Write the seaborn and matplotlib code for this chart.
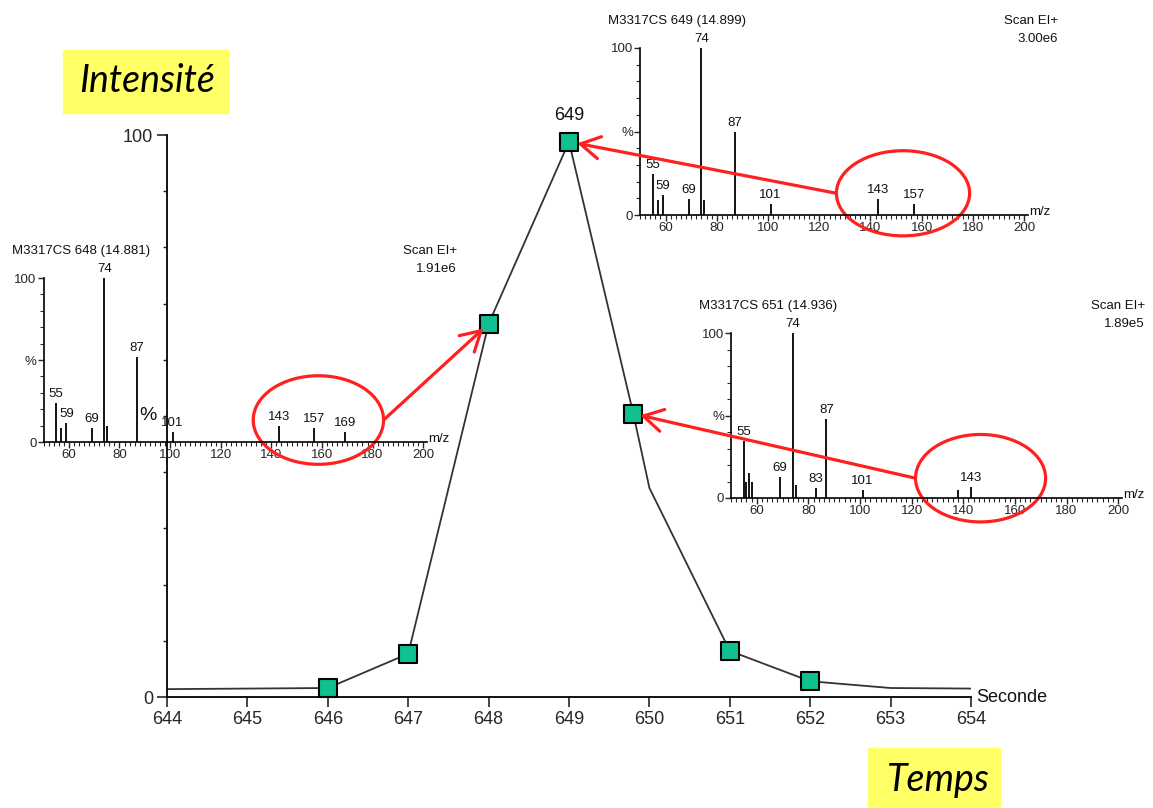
import matplotlib
matplotlib.use("Agg")
import matplotlib.pyplot as plt
import seaborn as sns
import pandas as pd
from matplotlib.patches import Ellipse, Rectangle, ConnectionPatch
from matplotlib.ticker import MultipleLocator

# chromatogram (total ion current around scan 649)
scan_time = [644, 646, 647, 648, 649, 649.8, 650, 651, 652, 653, 654]
scan_intensity = [1.4, 1.6, 7.7, 66.4, 98.8, 50.4, 37.2, 8.2, 2.8, 1.6, 1.5]
scan_marked = [False, True, True, True, True, True, False, True, True, False, False]
time_ticks = list(range(644, 655))

# mass spectra (relative abundance, %)
mz_648 = [55, 57, 59, 69, 74, 75, 87, 101, 143, 157, 169]
rel_648 = [24, 8.5, 11.5, 8.5, 100, 10, 52, 6, 10, 8.5, 6]
lab_648 = [55, 59, 69, 74, 87, 101, 143, 157, 169]

mz_649 = [55, 57, 59, 69, 74, 75, 87, 101, 143, 157]
rel_649 = [24.5, 9, 12, 9.5, 100, 9, 50, 6.5, 9.5, 6.5]
lab_649 = [55, 59, 69, 74, 87, 101, 143, 157]

mz_651 = [55, 56, 57, 58, 69, 74, 75, 83, 87, 101, 138, 143]
rel_651 = [34.5, 10, 15, 10, 13, 100, 8, 6, 48, 5, 5, 6.5]
lab_651 = [55, 69, 74, 83, 87, 101, 143]

RED = "#ff2020"
W, H = 1153, 808

sns.set_style("ticks")
plt.rcParams["font.family"] = ["Liberation Sans", "DejaVu Sans"]
plt.rcParams["text.color"] = "#111111"


def rect(x0, y0, x1, y1):
    # pixel box (top-left origin) -> figure fraction
    return [x0 / W, 1 - y1 / H, (x1 - x0) / W, (y1 - y0) / H]


fig = plt.figure(figsize=(W / 100, H / 100), dpi=100)

# ---- main chromatogram
ax = fig.add_axes(rect(167, 135, 971, 697))
ax.set_facecolor("none")
df = pd.DataFrame({"t": scan_time, "i": scan_intensity, "m": scan_marked})
sns.lineplot(data=df, x="t", y="i", ax=ax, color="#333333", lw=1.3, zorder=2)
sns.scatterplot(data=df[df.m], x="t", y="i", ax=ax, marker="s", s=150,
                color="#10c090", edgecolor="black", linewidth=1.5,
                zorder=3, clip_on=False)
ax.set_xlim(644, 654)
ax.set_ylim(0, 100)
sns.despine(ax=ax)
for sp in ax.spines.values():
    sp.set_linewidth(1.3)
    sp.set_color("black")
ax.set_xticks(time_ticks)
ax.set_yticks([0, 100])
ax.yaxis.set_minor_locator(MultipleLocator(10))
ax.tick_params(which="major", length=7, width=1.2, labelsize=13, pad=3)
ax.tick_params(axis="y", which="minor", length=3, width=1)
ax.set_xlabel("")
ax.set_ylabel("")
ax.text(-0.024, 50, "%", transform=ax.get_yaxis_transform(), ha="center",
        va="center", fontsize=14)
ax.text(1.006, 0, "Seconde", transform=ax.transAxes, ha="left", va="center",
        fontsize=13)
peak = df.loc[df.i.idxmax()]
ax.annotate("649", (peak.t, peak.i), xytext=(0, 13), textcoords="offset points",
            ha="center", va="bottom", fontsize=13)


def spectrum(box, mz, rel, labels, title, scale, scan_dx=30):
    sa = fig.add_axes(rect(*box))
    sa.set_facecolor("none")
    sa.vlines(mz, 0, rel, color="black", lw=1.3)
    for m, r in zip(mz, rel):
        if m in labels:
            sa.annotate(str(m), (m, r), xytext=(0, 2), textcoords="offset points",
                        ha="center", va="bottom", fontsize=9.5)
    sa.set_xlim(50, 201.5)
    sa.set_ylim(0, 100)
    sns.despine(ax=sa)
    for sp in sa.spines.values():
        sp.set_linewidth(1.2)
        sp.set_color("black")
    sa.set_xticks(range(60, 201, 20))
    sa.xaxis.set_minor_locator(MultipleLocator(2))
    sa.set_yticks([0, 50, 100], ["0", "%", "100"])
    sa.yaxis.set_minor_locator(MultipleLocator(10))
    sa.tick_params(which="major", length=4, width=1, labelsize=9.5, pad=1)
    sa.tick_params(which="minor", length=3, width=0.8)
    sa.text(1.003, 0.02, "m/z", transform=sa.transAxes, ha="left", va="center",
            fontsize=9.5)
    sa.annotate(title, (0, 1), xycoords="axes fraction", xytext=(-32, 27),
                textcoords="offset pixels", ha="left", va="center", fontsize=9.5)
    sa.annotate("Scan EI+", (1, 1), xycoords="axes fraction", xytext=(scan_dx, 27),
                textcoords="offset pixels", ha="right", va="center", fontsize=9.5)
    sa.annotate(scale, (1, 1), xycoords="axes fraction", xytext=(scan_dx, 9),
                textcoords="offset pixels", ha="right", va="center", fontsize=9.5)
    return sa


s648 = spectrum((43.5, 278, 427, 442), mz_648, rel_648, lab_648,
                "M3317CS 648 (14.881)", "1.91e6")
s649 = spectrum((640, 48, 1028, 215), mz_649, rel_649, lab_649,
                "M3317CS 649 (14.899)", "3.00e6")
s651 = spectrum((731, 333, 1122, 498), mz_651, rel_651, lab_651,
                "M3317CS 651 (14.936)", "1.89e5", scan_dx=23)

# ---- highlighted fragments and arrows to the scans
circles = [(s648, 158.6, 13.4, 51.5, 54, 648, "right", 5),
           (s649, 152.7, 13.0, 52, 51, 649, "left", 6),
           (s651, 146.7, 12.0, 50.4, 53, 649.8, "left", 5)]
for sa, cx, cy, w, h, t, side, shrink in circles:
    sa.add_patch(Ellipse((cx, cy), w, h, fill=False, ec=RED, lw=2.3,
                         clip_on=False))
    sx = cx + w / 2 if side == "right" else cx - w / 2
    ti = df.loc[df.t == t, "i"].iloc[0]
    con = ConnectionPatch((sx, cy), (t, ti), coordsA="data", coordsB="data",
                          axesA=sa, axesB=ax, color=RED, lw=2.3,
                          arrowstyle="->,head_length=0.7,head_width=0.4",
                          mutation_scale=20, shrinkA=0, shrinkB=shrink)
    fig.add_artist(con)

# ---- yellow captions
fig.add_artist(Rectangle((63 / W, 1 - 113 / H), 165 / W, 63 / H,
                         transform=fig.transFigure, color="#ffff66", zorder=0))
fig.text(147 / W, 1 - 92 / H, "Intensité", family=["Lato", "DejaVu Sans"],
         style="italic", fontsize=27, ha="center", va="baseline", color="black")
fig.add_artist(Rectangle((868 / W, 0), 132 / W, 60 / H,
                         transform=fig.transFigure, color="#ffff66", zorder=0))
fig.text(938 / W, 1 - 791 / H, "Temps", family=["Lato", "DejaVu Sans"],
         style="italic", fontsize=27, ha="center", va="baseline", color="black")

fig.savefig("out.png", dpi=100)
